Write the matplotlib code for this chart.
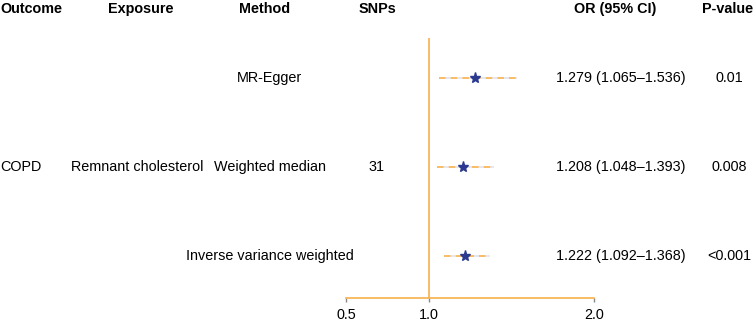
import matplotlib.pyplot as plt
import matplotlib.transforms as mtransforms

plt.rcParams['font.family'] = ['Liberation Sans', 'DejaVu Sans']

outcome = "COPD"
exposure = "Remnant cholesterol"
snps = "31"
methods = ["MR-Egger", "Weighted median", "Inverse variance weighted"]
odds = [1.279, 1.208, 1.222]
lower = [1.065, 1.048, 1.092]
upper = [1.536, 1.393, 1.368]
pvals = ["0.01", "0.008", "<0.001"]
xticks = [0.5, 1.0, 2.0]
headers = ["Outcome", "Exposure", "Method", "SNPs", "OR (95% CI)", "P-value"]

orange = '#f6b04b'
navy = '#2b3a8f'
fs = 10.4

fig = plt.figure(figsize=(7.56, 3.24), dpi=100)
ax = fig.add_axes([346 / 756, 1 - 298 / 324, 248 / 756, 260 / 324])

rows = [3, 2, 1]
for y, o, lo, hi in zip(rows, odds, lower, upper):
    ax.plot([lo, hi], [y, y], color=orange, lw=1.2, linestyle=(0, (4, 3)),
            gapcolor='#e2e2ec', zorder=2)
    ax.plot(o, y, marker='*', color=navy, markersize=8, zorder=3)

ax.axvline(1.0, color=orange, lw=1.2, zorder=1)
ax.set_xlim(0.5, 2.0)
ax.set_ylim(0.53, 3.45)
for s in ['top', 'right', 'left']:
    ax.spines[s].set_visible(False)
ax.spines['bottom'].set_color(orange)
ax.spines['bottom'].set_linewidth(1.2)
ax.set_yticks([])
ax.set_xticks(xticks)
ax.set_xticklabels([f"{t:.1f}" for t in xticks])
ax.tick_params(axis='x', colors='#888888', length=3, width=1, labelsize=fs,
               labelcolor='black', pad=4)

# header row
hy = 1 - 9 / 324
col_x = [0.0, 141 / 756, 265 / 756, 377 / 756, 615 / 756, 728 / 756]
for i, (h, cx) in enumerate(zip(headers, col_x)):
    ha = 'left' if i == 0 else 'center'
    fig.text(cx, hy, h, ha=ha, va='center', fontsize=fs, fontweight='bold')

tr = mtransforms.blended_transform_factory(fig.transFigure, ax.transData)
fig.text(0.0, 2, outcome, transform=tr, ha='left', va='center', fontsize=fs)
fig.text(137 / 756, 2, exposure, transform=tr, ha='center', va='center', fontsize=fs)
fig.text(col_x[3], 2, snps, transform=tr, ha='center', va='center', fontsize=fs)
for y, m, o, lo, hi, p in zip(rows, methods, odds, lower, upper, pvals):
    fig.text(270 / 756, y, m, transform=tr, ha='center', va='center', fontsize=fs)
    fig.text(621 / 756, y, f"{o:.3f} ({lo:.3f}\u2013{hi:.3f})", transform=tr,
             ha='center', va='center', fontsize=fs)
    fig.text(729 / 756, y, p, transform=tr, ha='center', va='center', fontsize=fs)

fig.savefig('out.png', dpi=100)
